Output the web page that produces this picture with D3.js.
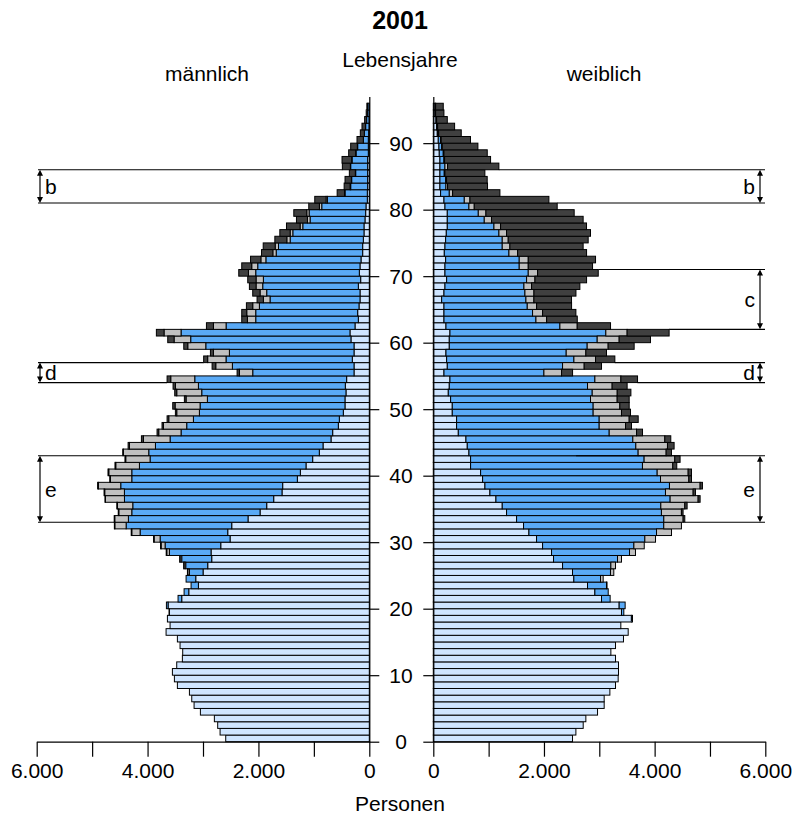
<!DOCTYPE html>
<html>
<head>
<meta charset="utf-8">
<script src="https://cdn.jsdelivr.net/npm/d3@7"></script>
<style>
  body { margin: 0; background: #fff; }
  svg text { font-family: "Liberation Sans", Arial, Helvetica, sans-serif; fill: #000; }
</style>
</head>
<body>
<svg id="chart" width="795" height="819"></svg>
<script>
// Lebensjahre 0..95
var ages = d3.range(0, 96);

// männlich
var maleLedig = [2590,2692,2735,2795,3047,3161,3203,3245,3462,3516,
  3552,3474,3372,3366,3414,3462,3666,3594,3642,3606,
  3630,3384,3257,3083,3131,2999,2915,2843,2855,2680,
  2512,2554,2482,2188,1971,1851,1725,1575,1563,1298,
  1244,1142,1022,902,835,691,661,559,541,469,
  439,439,421,433,409,276,276,307,276,276,
  331,349,258,198,210,186,168,168,198,156,
  180,168,150,120,120,108,96,96,78,66,
  60,36,36,30,30,30,30,30,18,18,
  18,12,6,6,6,6];
var maleVerh = [0,0,0,0,0,0,0,0,0,0,
  0,0,0,0,0,0,0,0,0,6,
  30,66,84,132,174,246,397,541,751,1004,
  1262,1581,1905,2158,2314,2416,2692,2843,2921,2987,
  3041,3005,2933,3077,3023,2903,2735,2735,2632,2596,
  2614,2482,2602,2650,2740,1827,2194,2278,2248,2674,
  2891,3047,2326,1851,1839,1797,1623,1683,1725,1755,
  1869,1845,1716,1560,1518,1320,1284,1104,990,1020,
  798,720,402,306,288,216,306,282,222,192,
  90,78,60,42,30,24];
var maleGesch = [0,0,0,0,0,0,0,0,0,0,
  0,0,0,0,0,0,0,0,0,0,
  0,0,0,0,0,30,30,30,48,72,
  108,150,204,246,234,276,342,355,403,385,
  415,427,439,457,469,481,403,421,445,409,
  451,385,451,415,433,240,300,331,288,325,
  300,307,228,150,162,120,120,120,120,132,
  132,108,90,60,60,60,48,48,48,42,
  42,24,10,10,6,6,6,6,6,6,
  0,0,0,0,0,0];
var maleVerw = [0,0,0,0,0,0,0,0,0,0,
  0,0,0,0,0,0,0,0,0,0,
  0,0,0,0,0,6,6,6,10,10,
  10,10,8,10,10,12,10,12,14,12,
  14,14,14,12,24,36,30,24,30,24,
  42,30,36,42,66,42,66,72,54,72,
  114,138,126,102,90,114,114,132,120,150,
  174,180,186,204,216,216,186,246,198,234,
  192,204,132,108,114,108,144,174,126,120,
  114,72,66,36,20,14];

// weiblich
var femaleLedig = [2516,2577,2709,2757,2968,3088,3088,3191,3293,3341,
  3347,3347,3293,3209,3293,3437,3522,3389,3580,3401,
  3359,3040,2920,2787,2540,2516,2336,2173,2137,1975,
  1866,1728,1631,1505,1324,1246,1132,1023,933,891,
  855,674,674,644,614,590,452,421,421,343,
  343,313,271,289,301,193,253,241,229,289,
  289,301,229,193,193,193,151,193,211,241,
  211,211,223,199,211,223,235,253,253,253,
  211,193,132,120,120,120,120,120,108,102,
  90,72,60,48,30,30];
var femaleVerh = [0,0,0,0,0,0,0,0,0,0,
  0,0,0,0,0,0,0,0,20,42,
  108,156,241,343,482,686,873,1156,1409,1650,
  1957,2306,2534,2661,2799,2866,3148,3173,3335,3215,
  3191,3106,3136,3058,3046,3016,2727,2577,2577,2546,
  2546,2528,2601,2498,2619,1806,2083,2300,2173,2492,
  2673,2817,2059,1662,1601,1505,1523,1463,1427,1445,
  1505,1342,1330,1168,1035,1023,951,843,668,560,
  433,367,157,108,102,78,90,72,72,48,
  42,18,12,12,12,12];
var femaleGesch = [0,0,0,0,0,0,0,0,0,0,
  0,0,0,0,0,0,0,0,0,0,
  0,0,0,10,48,60,84,72,108,187,
  193,271,319,349,361,433,506,500,554,512,
  560,548,554,506,572,578,494,476,542,512,
  482,482,452,445,470,319,391,391,355,379,
  397,385,313,193,181,169,144,163,138,151,
  169,163,163,157,138,108,138,120,132,138,
  96,102,60,30,18,12,48,12,12,12,
  10,6,6,0,0,0];
var femaleVerw = [0,0,0,0,0,0,0,0,0,0,
  0,0,0,0,0,0,0,0,0,0,
  0,0,0,0,0,0,0,0,0,0,
  0,0,0,30,30,42,36,42,42,48,
  60,72,96,96,120,108,108,108,163,163,
  169,217,247,271,301,199,313,349,373,470,
  566,759,602,554,602,632,680,759,873,933,
  1096,1162,1216,1246,1324,1445,1517,1553,1655,1595,
  1499,1427,855,722,734,722,927,831,783,644,
  530,409,307,193,150,138];

var ageTicks = [0, 10, 20, 30, 40, 50, 60, 70, 80, 90];
var personTicks = [0, 1000, 2000, 3000, 4000, 5000, 6000];
var personLabels = [0, 2000, 4000, 6000];

// Markierungen: Altersbereiche [von, bis]
var bracketsMale = [
  { label: "b", from: 81, to: 85 },
  { label: "d", from: 54, to: 56 },
  { label: "e", from: 33, to: 42 }
];
var bracketsFemale = [
  { label: "b", from: 81, to: 85 },
  { label: "c", from: 62, to: 70 },
  { label: "d", from: 54, to: 56 },
  { label: "e", from: 33, to: 42, topReach: 2580 }
];

var keys = ["ledig", "verh", "gesch", "verw"];
var colors = { ledig: "#cfe5ff", verh: "#5aaaf6", gesch: "#c0c0c0", verw: "#404040" };

function rows(a, b, c, d) {
  return ages.map(function (age, i) {
    return { age: age, ledig: a[i], verh: b[i], gesch: c[i], verw: d[i] };
  });
}
var maleData = rows(maleLedig, maleVerh, maleGesch, maleVerw);
var femaleData = rows(femaleLedig, femaleVerh, femaleGesch, femaleVerw);

var svg = d3.select("#chart");

var y = d3.scaleLinear().domain([0, 97]).range([741.7, 96.6]);
var xL = d3.scaleLinear().domain([0, 6000]).range([369.3, 36.7]);
var xR = d3.scaleLinear().domain([0, 6000]).range([433.3, 765.3]);

var stack = d3.stack().keys(keys);

function drawBars(data, x, cls) {
  var layers = stack(data);
  var g = svg.append("g").attr("class", cls);
  g.selectAll("g")
    .data(layers)
    .join("g")
    .attr("fill", function (d) { return colors[d.key]; })
    .selectAll("rect")
    .data(function (d) { return d.filter(function (p) { return p[1] - p[0] > 0; }); })
    .join("rect")
    .attr("x", function (p) { return Math.min(x(p[0]), x(p[1])); })
    .attr("width", function (p) { return Math.abs(x(p[1]) - x(p[0])); })
    .attr("y", function (p) { return y(p.data.age + 1); })
    .attr("height", function (p) { return y(p.data.age) - y(p.data.age + 1); })
    .attr("stroke", "#000")
    .attr("stroke-width", 1);
}

drawBars(maleData, xL, "male");
drawBars(femaleData, xR, "female");

var de = d3.formatLocale({ decimal: ",", thousands: ".", grouping: [3], currency: ["", " €"] });
var fmt = de.format(",");

function personAxis(x) {
  return d3.axisBottom(x)
    .tickValues(personTicks)
    .tickSize(15)
    .tickSizeOuter(0)
    .tickPadding(6)
    .tickFormat(function (d) { return personLabels.indexOf(d) >= 0 ? fmt(d) : ""; });
}

var axL = svg.append("g").attr("transform", "translate(0,741.7)").call(personAxis(xL));
var axR = svg.append("g").attr("transform", "translate(0,741.7)").call(personAxis(xR));
[axL, axR].forEach(function (ax) {
  ax.selectAll("text").style("font-size", "21px").style("font-family", "Liberation Sans, Arial, sans-serif");
  ax.selectAll("line, path").attr("stroke", "#000").attr("stroke-width", 1.2);
});

// Altersachsen
var ageAxL = svg.append("g").attr("transform", "translate(369.3,0)")
  .call(d3.axisRight(y).tickValues(ageTicks).tickSize(10).tickSizeOuter(0).tickFormat(""));
var ageAxR = svg.append("g").attr("transform", "translate(433.3,0)")
  .call(d3.axisLeft(y).tickValues(ageTicks).tickSize(10).tickSizeOuter(0).tickFormat(""));
[ageAxL, ageAxR].forEach(function (ax) {
  ax.selectAll("line, path").attr("stroke", "#000").attr("stroke-width", 1.2);
});

svg.append("g")
  .selectAll("text")
  .data(ageTicks)
  .join("text")
  .attr("x", 401)
  .attr("y", function (d) { return y(d); })
  .attr("dy", "0.36em")
  .attr("text-anchor", "middle")
  .style("font-size", "21px")
  .text(function (d) { return d; });

// Brackets
function total(row) { return row.ledig + row.verh + row.gesch + row.verw; }

function drawBrackets(list, data, x, side) {
  var edge = side === "left" ? 38 : 765;
  var arrowX = side === "left" ? 40 : 760;
  var g = svg.append("g").attr("stroke", "#000").attr("stroke-width", 1.2);
  list.forEach(function (b) {
    var bounds = [b.to + 1, b.from];
    bounds.forEach(function (a, i) {
      var reach = Math.max(total(data[a - 1]), total(data[a]));
      if (i === 0 && b.topReach) reach = b.topReach;
      g.append("line")
        .attr("x1", edge).attr("x2", x(reach))
        .attr("y1", y(a)).attr("y2", y(a));
    });
    var y1 = y(b.to + 1), y2 = y(b.from);
    g.append("line")
      .attr("x1", arrowX).attr("x2", arrowX)
      .attr("y1", y1 + 4).attr("y2", y2 - 4);
    g.append("path")
      .attr("fill", "#000").attr("stroke", "none")
      .attr("d", "M" + arrowX + "," + y1 + "l-3,6h6z M" + arrowX + "," + y2 + "l-3,-6h6z");
    svg.append("text")
      .attr("x", side === "left" ? 45 : 755)
      .attr("y", (y1 + y2) / 2)
      .attr("dy", "0.36em")
      .attr("text-anchor", side === "left" ? "start" : "end")
      .style("font-size", "21px")
      .text(b.label);
  });
}

drawBrackets(bracketsMale, maleData, xL, "left");
drawBrackets(bracketsFemale, femaleData, xR, "right");

// Texte
svg.append("text").attr("x", 400).attr("y", 29).attr("text-anchor", "middle")
  .style("font-size", "25px").style("font-weight", "bold").text("2001");
svg.append("text").attr("x", 400).attr("y", 67).attr("text-anchor", "middle")
  .style("font-size", "21px").text("Lebensjahre");
svg.append("text").attr("x", 207).attr("y", 81).attr("text-anchor", "middle")
  .style("font-size", "21px").text("männlich");
svg.append("text").attr("x", 604).attr("y", 81).attr("text-anchor", "middle")
  .style("font-size", "21px").text("weiblich");
svg.append("text").attr("x", 400).attr("y", 811).attr("text-anchor", "middle")
  .style("font-size", "21px").text("Personen");
</script>
</body>
</html>
